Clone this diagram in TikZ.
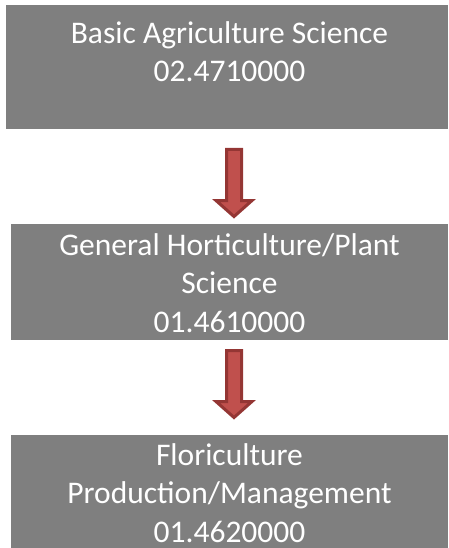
\documentclass[tikz,border=0pt]{standalone}
\usepackage{fontspec}
\setmainfont{Carlito}
\definecolor{boxgray}{HTML}{7F7F7F}
\definecolor{arrowfill}{HTML}{C0504D}
\definecolor{arrowedge}{HTML}{943634}
\tikzset{
  stagebox/.style={draw=none, fill=boxgray, rectangle, inner sep=0pt},
  % base anchor of a multi-line node sits on its last line
  stagetext/.style={text=white, align=center, inner sep=0pt, anchor=base,
    font=\fontsize{31.5}{38.5}\selectfont},
  downarrow/.style={draw=arrowedge, line width=3pt, fill=arrowfill, line join=miter}
}
\begin{document}
\begin{tikzpicture}[x=1pt,y=-1pt]
  \useasboundingbox (0,0) rectangle (448,548);
  % stage boxes
  \node[stagebox, minimum width=442pt, minimum height=124pt] (box1) at (227,67) {};
  \node[stagebox, minimum width=437pt, minimum height=116pt] (box2) at (229.5,282) {};
  \node[stagebox, minimum width=437pt, minimum height=113pt] (box3) at (229.5,491.5) {};
  % box labels
  \node[stagetext] (t1) at (229.5,82) {Basic Agriculture Science\\02.4710000};
  \node[stagetext] (t2) at (229.5,332) {General Horticulture/Plant\\Science\\01.4610000};
  \node[stagetext] (t3) at (229.5,542) {Floriculture\\Production/Management\\01.4620000};
  % block arrows between the stages
  \coordinate (a1) at (234,149.5);
  \coordinate (a2) at (234,350.5);
  \foreach \a in {a1,a2}
    \draw[downarrow, shift={(\a)}] (-7.5,0) -- (7.5,0) -- (7.5,51) -- (18,51)
      -- (0,67) -- (-18,51) -- (-7.5,51) -- cycle;
\end{tikzpicture}
\end{document}
